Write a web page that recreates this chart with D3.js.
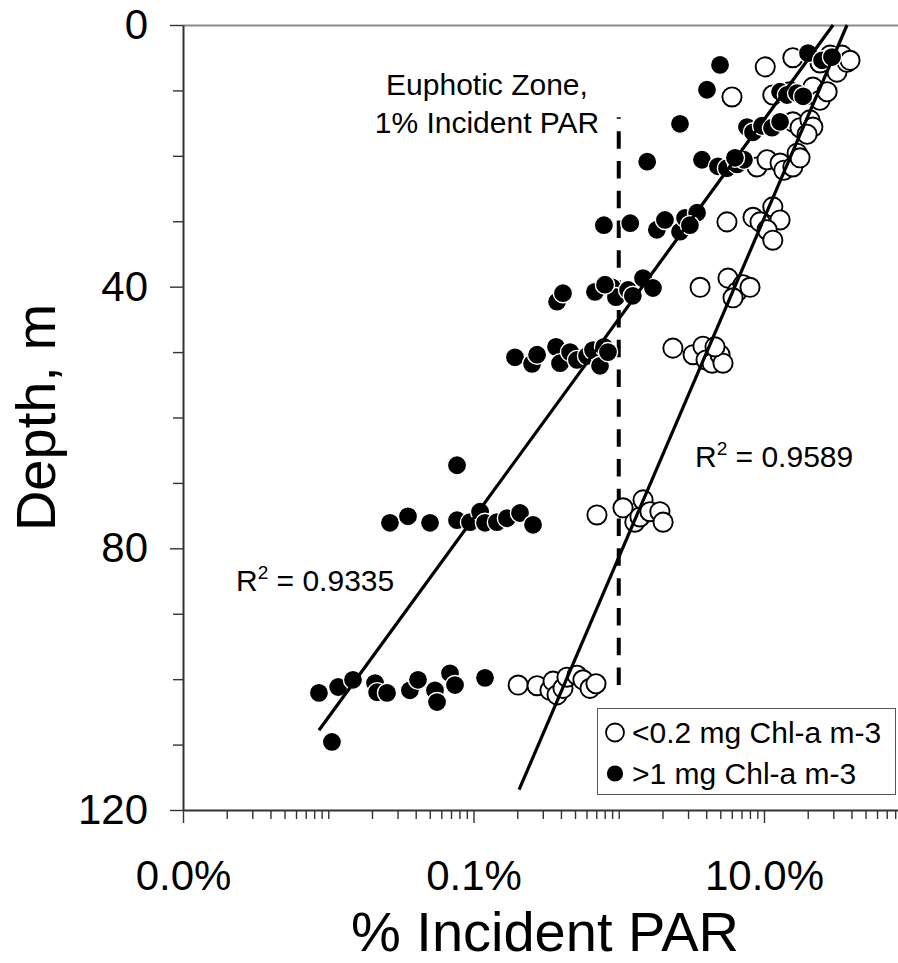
<!DOCTYPE html>
<html>
<head>
<meta charset="utf-8">
<script src="https://cdn.jsdelivr.net/npm/d3@7"></script>
<style>
  body { margin: 0; background: #fff; }
  svg { display: block; }
  text { font-family: "Liberation Sans", Arial, sans-serif; fill: #000; }
</style>
</head>
<body>
<script>
const width = 898;
const height = 963;

// [% incident PAR, depth m]
const lowChl = [
  [10.2, 6.4], [15.8, 5.0], [24.3, 5.8], [31.8, 7.2], [34.4, 4.6], [37.3, 5.7], [39.1, 5.4], [28.5, 4.6],
  [6.02, 11.0], [11.5, 10.7], [15.1, 10.2], [19.2, 10.7], [21.7, 9.5], [24.3, 11.5], [27.2, 10.2],
  [15.8, 14.8], [17.7, 15.7], [20.7, 14.5], [21.7, 15.6], [19.8, 16.7],
  [8.95, 21.7], [10.5, 20.6], [12.9, 21.1], [13.7, 22.2], [15.8, 21.7], [16.9, 19.6], [17.7, 20.3],
  [5.56, 30.1], [8.40, 29.4], [9.39, 30.1], [11.5, 27.8], [12.9, 29.8], [10.5, 31.3], [11.5, 32.9],
  [3.63, 40.1], [5.65, 38.7], [6.52, 40.8], [7.17, 39.7], [8.01, 40.1], [6.12, 41.7],
  [2.36, 49.4], [3.25, 50.4], [3.80, 49.1], [3.99, 51.2], [4.39, 51.7], [4.98, 50.4], [5.22, 51.7], [4.60, 49.2],
  [0.708, 74.9], [1.07, 73.8], [1.29, 76.0], [1.40, 75.2], [1.47, 72.6], [1.64, 74.4], [1.92, 74.4], [2.02, 76.0],
  [0.203, 100.9], [0.274, 101.0], [0.336, 101.7], [0.353, 100.3], [0.376, 102.4], [0.413, 101.4],
  [0.440, 99.7], [0.516, 99.4], [0.567, 100.1], [0.634, 101.4], [0.697, 100.7]
];

const highChl = [
  [4.98, 6.1], [20.1, 4.3], [25.1, 5.4], [29.4, 4.9],
  [4.05, 9.9], [12.9, 10.2], [14.4, 10.7], [16.9, 10.4], [18.6, 10.9],
  [2.64, 15.1], [7.64, 15.6], [8.40, 16.4], [9.69, 15.4], [11.35, 15.7], [12.9, 14.8],
  [1.57, 20.9], [3.74, 20.6], [4.82, 21.6], [5.56, 21.9], [6.52, 21.3], [7.28, 20.6], [6.31, 20.3],
  [0.79, 30.6], [1.20, 30.3], [1.83, 31.3], [2.08, 29.8], [2.64, 31.6], [2.86, 29.5], [3.46, 28.7], [3.09, 30.6],
  [0.376, 42.3], [0.413, 41.0], [0.686, 40.8], [0.899, 40.1], [0.957, 41.6], [1.16, 40.5], [1.25, 41.4],
  [1.47, 38.7], [1.72, 40.2], [0.804, 39.7],
  [0.193, 50.8], [0.253, 51.8], [0.274, 50.4], [0.370, 49.2], [0.394, 51.7], [0.462, 50.0], [0.516, 51.2],
  [0.605, 50.6], [0.665, 49.7], [0.743, 52.1], [0.792, 49.2], [0.843, 50.0],
  [0.077, 67.3],
  [0.0266, 76.1], [0.0354, 75.1], [0.0502, 76.1], [0.077, 75.7], [0.0946, 76.0], [0.111, 74.4], [0.120, 76.1],
  [0.145, 76.0], [0.170, 75.4], [0.209, 74.6], [0.257, 76.4],
  [0.00863, 102.1], [0.0117, 101.2], [0.0148, 100.1], [0.0210, 100.6], [0.0217, 102.0], [0.0254, 102.1],
  [0.0365, 101.7], [0.0415, 100.1], [0.0543, 101.7], [0.0561, 103.5], [0.0689, 99.1], [0.0746, 100.9],
  [0.120, 99.8], [0.0106, 109.6]
];

// log trendlines (straight on the log axis): ends of each line
const lowTrend = [[0.206, 116.9], [37.3, 0]];
const highTrend = [[0.00863, 107.8], [29.9, 0]];

const euphoticPAR = 1;            // % incident PAR
const euphoticDepths = [100.9, 14.1];

const xMajorTicks = [0.001, 0.1, 10];
const yMajorTicks = [0, 40, 80, 120];
const r2Values = ['0.9589', '0.9335'];
const legendLabels = ['<0.2 mg Chl-a m-3', '>1 mg Chl-a m-3'];

const x = d3.scaleLog().domain([0.001, 100]).range([183, 909.25]);
const y = d3.scaleLinear().domain([0, 120]).range([25, 810]);

const svg = d3.select('body')
  .append('svg')
  .attr('width', width)
  .attr('height', height);

// plot area top border
svg.append('line')
  .attr('x1', 183).attr('x2', 909)
  .attr('y1', 25.5).attr('y2', 25.5)
  .attr('stroke', '#8c8c8c')
  .attr('stroke-width', 2);

// minor ticks
const xMinor = [];
for (let e = -3; e < 2; e++) {
  for (let k = 1; k <= 9; k++) {
    const v = k * Math.pow(10, e);
    if (!xMajorTicks.some(t => Math.abs(t - v) < 1e-12)) xMinor.push(v);
  }
}
const yMinor = d3.range(0, 121, 10).filter(v => !yMajorTicks.includes(v));

svg.append('g')
  .attr('transform', 'translate(0,810)')
  .call(d3.axisBottom(x).tickValues(xMinor).tickSize(9).tickFormat(''))
  .call(g => g.select('.domain').remove());

svg.append('g')
  .attr('transform', 'translate(183,0)')
  .call(d3.axisLeft(y).tickValues(yMinor).tickSize(10).tickFormat(''))
  .call(g => g.select('.domain').remove());

const xAxis = svg.append('g')
  .attr('transform', 'translate(0,810)')
  .call(d3.axisBottom(x)
    .tickValues(xMajorTicks)
    .tickSize(13)
    .tickSizeOuter(0)
    .tickPadding(37)
    .tickFormat(d => d3.format('.1f')(d) + '%'));

const yAxis = svg.append('g')
  .attr('transform', 'translate(183,0)')
  .call(d3.axisLeft(y)
    .tickValues(yMajorTicks)
    .tickSize(13)
    .tickSizeOuter(0)
    .tickPadding(22));

svg.selectAll('.tick line').attr('stroke', '#333').attr('stroke-width', 1.4);
[xAxis, yAxis].forEach(g => {
  g.select('.domain').attr('stroke', '#333').attr('stroke-width', 2);
  g.selectAll('text').attr('font-size', 42).attr('font-family', '"Liberation Sans", Arial, sans-serif');
});

// axis titles
svg.append('text')
  .attr('x', 545).attr('y', 951)
  .attr('text-anchor', 'middle')
  .attr('font-size', 56)
  .text('% Incident PAR');

svg.append('text')
  .attr('transform', 'translate(55,417.5) rotate(-90)')
  .attr('text-anchor', 'middle')
  .attr('font-size', 56)
  .text('Depth, m');

// euphotic zone marker
svg.append('line')
  .attr('x1', x(euphoticPAR)).attr('x2', x(euphoticPAR))
  .attr('y1', y(euphoticDepths[0])).attr('y2', y(euphoticDepths[1]))
  .attr('stroke', '#000')
  .attr('stroke-width', 4)
  .attr('stroke-dasharray', '17.5,12.3');

const note = svg.append('text')
  .attr('text-anchor', 'middle')
  .attr('font-size', 30);
note.append('tspan').attr('x', 487).attr('y', 95).text('Euphotic Zone,');
note.append('tspan').attr('x', 487).attr('y', 133).text('1% Incident PAR');

// markers
const r = 9.6;
svg.append('g')
  .selectAll('circle')
  .data(lowChl)
  .join('circle')
  .attr('cx', d => x(d[0]))
  .attr('cy', d => y(d[1]))
  .attr('r', r)
  .attr('fill', '#fff')
  .attr('stroke', '#000')
  .attr('stroke-width', 1.9);

svg.append('g')
  .selectAll('circle')
  .data(highChl)
  .join('circle')
  .attr('cx', d => x(d[0]))
  .attr('cy', d => y(d[1]))
  .attr('r', r)
  .attr('fill', '#000')
  .attr('stroke', '#fff')
  .attr('stroke-width', 1.4);

// trendlines
const line = d3.line().x(d => x(d[0])).y(d => y(d[1]));
[lowTrend, highTrend].forEach(t => {
  svg.append('path')
    .attr('d', line(t))
    .attr('fill', 'none')
    .attr('stroke', '#000')
    .attr('stroke-width', 3.2);
});

// R² labels
function r2(xp, yp, val) {
  const t = svg.append('text').attr('x', xp).attr('y', yp).attr('font-size', 30);
  t.append('tspan').text('R');
  t.append('tspan').attr('font-size', 19).attr('dy', -12).text('2');
  t.append('tspan').attr('dy', 12).text(' = ' + val);
}
r2(695, 467, r2Values[0]);
r2(236, 591, r2Values[1]);

// legend
const lg = svg.append('g');
lg.append('rect')
  .attr('x', 597.5).attr('y', 708.5)
  .attr('width', 298).attr('height', 86)
  .attr('fill', '#fff')
  .attr('stroke', '#555')
  .attr('stroke-width', 1);
legendLabels.forEach((lab, i) => {
  const cy = 732.5 + i * 41;
  lg.append('circle')
    .attr('cx', 615).attr('cy', cy).attr('r', 9)
    .attr('fill', i === 0 ? '#fff' : '#000')
    .attr('stroke', i === 0 ? '#000' : '#fff')
    .attr('stroke-width', 1.8);
  lg.append('text')
    .attr('x', 632).attr('y', cy + 10.5)
    .attr('font-size', 30)
    .text(lab);
});
</script>
</body>
</html>
